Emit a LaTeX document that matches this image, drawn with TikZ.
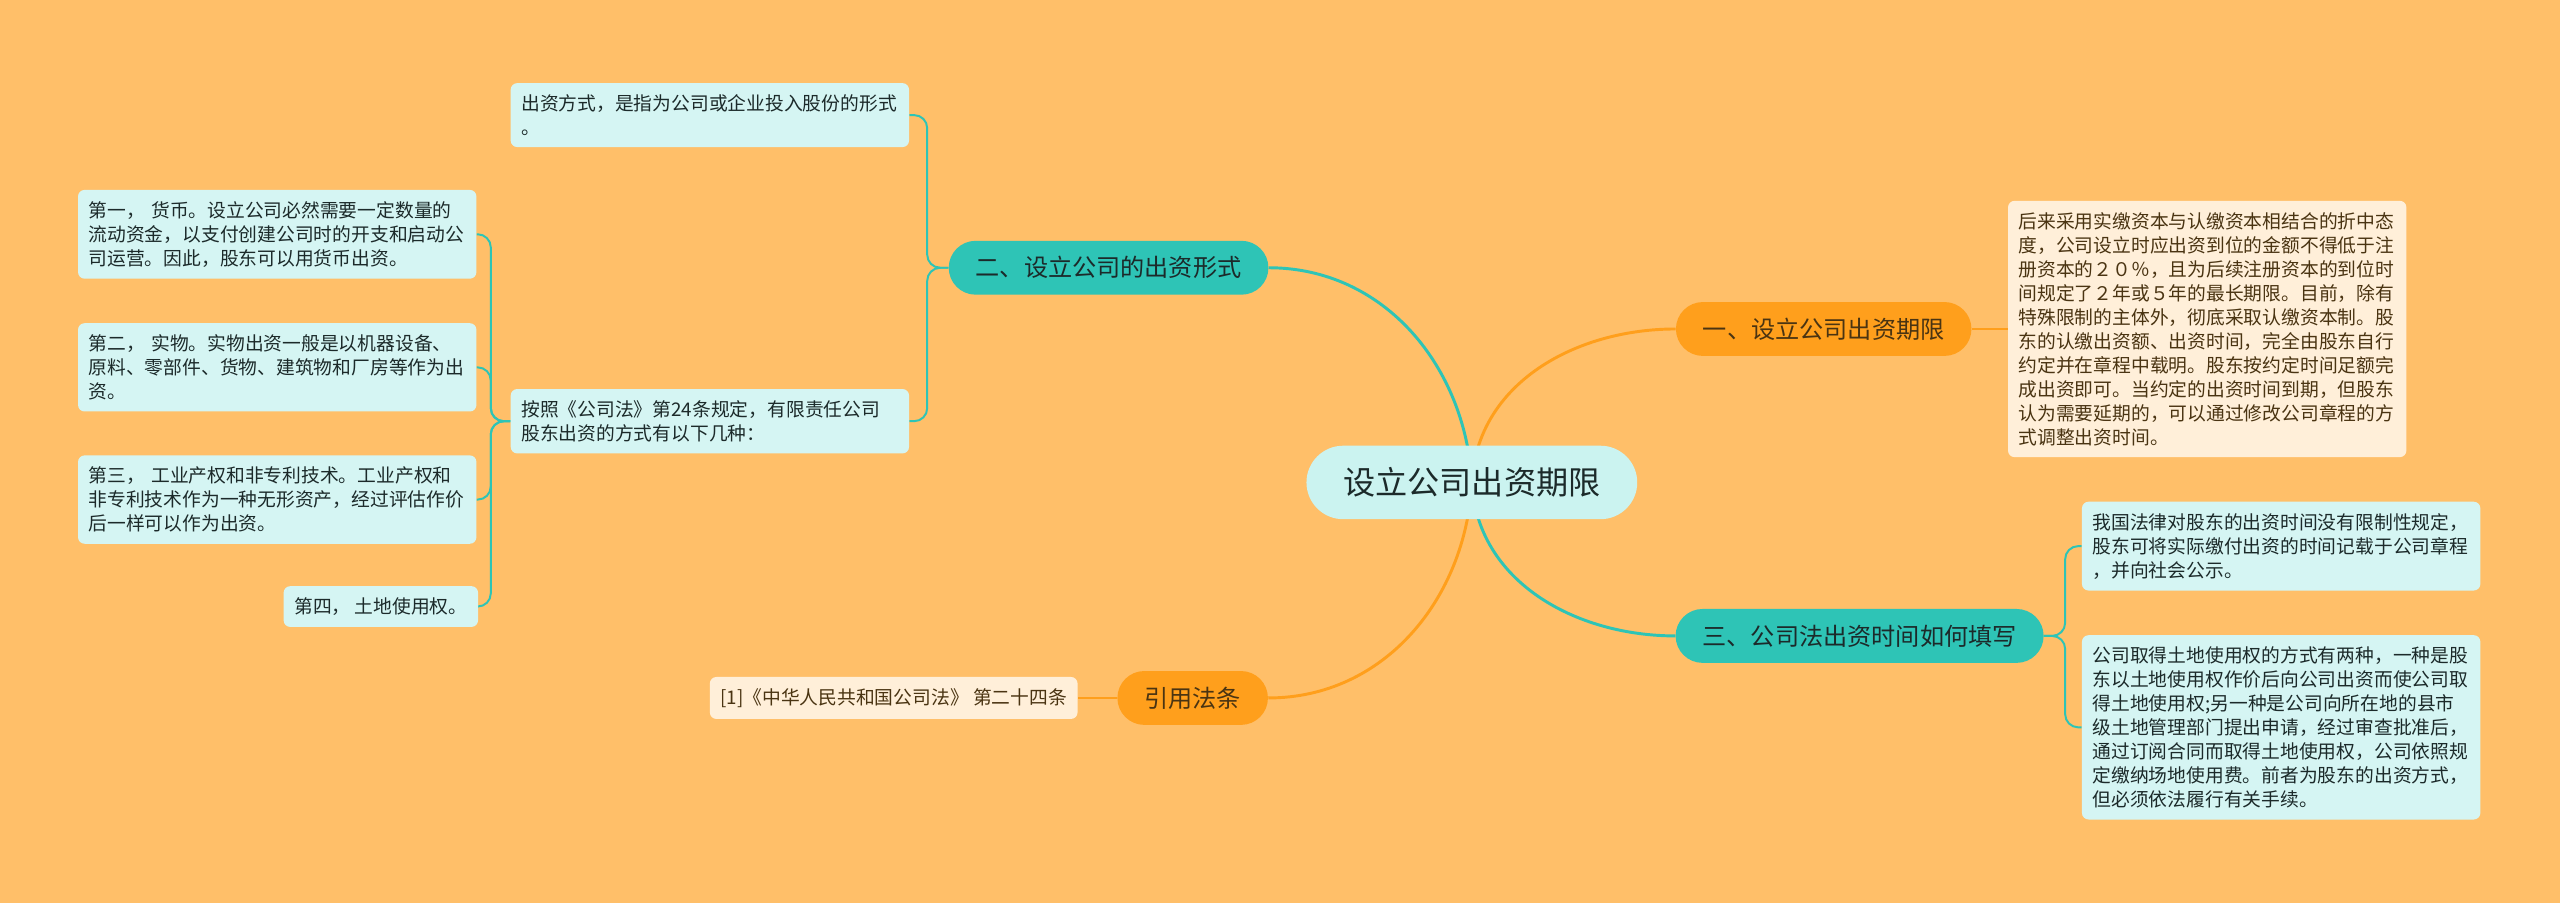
\documentclass[tikz,border=0pt]{standalone}
\usepackage{fontspec}
\setmainfont{Noto Sans CJK SC}
\usetikzlibrary{positioning, backgrounds}
\definecolor{MapBack}{HTML}{FFBF69}
\definecolor{MapOrange}{HTML}{FF9F1C}
\definecolor{MapTeal}{HTML}{2EC4B6}
\definecolor{MapMint}{HTML}{CBF3F0}
\definecolor{MapInk}{HTML}{1C2A2A}
\definecolor{MapBrown}{HTML}{4A3412}

\begin{document}
\begin{tikzpicture}[x=1pt, y=-1pt,
    rootbox/.style={rectangle, fill=MapMint, rounded corners=22.5pt, minimum height=45pt, inner xsep=22.5pt, text=MapInk, font=\fontsize{19.7pt}{24pt}\selectfont},
    topic/.style={rectangle, rounded corners=16.5pt, minimum height=33pt, inner xsep=16.5pt, font=\fontsize{14.8pt}{18pt}\selectfont},
    tealtopic/.style={topic, fill=MapTeal, text=MapInk},
    orangetopic/.style={topic, fill=MapOrange, text=MapBrown},
    leaf/.style={rectangle, rounded corners=4pt, inner xsep=6.5pt, inner ysep=7pt, align=left, font=\fontsize{11.5pt}{14.7pt}\selectfont},
    mintleaf/.style={leaf, fill=MapMint!80!white, text=MapInk},
    creamleaf/.style={leaf, fill=MapBack!25!white, text=MapBrown},
    fulltext/.style={text width=231pt},
    branch/.style={line width=1.8pt},
    twig/.style={line width=1.2pt, rounded corners=8pt}]
    \useasboundingbox (0,0) rectangle (1568,553);

    % centre and main topics
    \node[rootbox] (root) at (901.5,295.5) {设立公司出资期限};
    \node[orangetopic] (t1) at (1117,201.5) {一、设立公司出资期限};
    \node[tealtopic] (t2) at (679,164) {二、设立公司的出资形式};
    \node[tealtopic] (t3) at (1139,389.5) {三、公司法出资时间如何填写};
    \node[orangetopic] (t4) at (730.5,427.5) {引用法条};

    % leaves
    \node[creamleaf, fulltext, right=22pt of t1] (o1) {后来采用实缴资本与认缴资本相结合的折中态\\度，公司设立时应出资到位的金额不得低于注\\册资本的２０％，且为后续注册资本的到位时\\间规定了２年或５年的最长期限。目前，除有\\特殊限制的主体外，彻底采取认缴资本制。股\\东的认缴出资额、出资时间，完全由股东自行\\约定并在章程中载明。股东按约定时间足额完\\成出资即可。当约定的出资时间到期，但股东\\认为需要延期的，可以通过修改公司章程的方\\式调整出资时间。};
    \node[mintleaf, fulltext, anchor=east] (a1) at (557,70.5) {出资方式，是指为公司或企业投入股份的形式\\。};
    \node[mintleaf, fulltext, anchor=east] (b1) at (557,258) {按照《公司法》第24条规定，有限责任公司\\股东出资的方式有以下几种：};
    \node[mintleaf, fulltext, anchor=east] (l1) at (292,143.5) {第一， 货币。设立公司必然需要一定数量的\\流动资金，以支付创建公司时的开支和启动公\\司运营。因此，股东可以用货币出资。};
    \node[mintleaf, fulltext, anchor=east] (l2) at (292,225) {第二， 实物。实物出资一般是以机器设备、\\原料、零部件、货物、建筑物和厂房等作为出\\资。};
    \node[mintleaf, fulltext, anchor=east] (l3) at (292,306) {第三， 工业产权和非专利技术。工业产权和\\非专利技术作为一种无形资产，经过评估作价\\后一样可以作为出资。};
    \node[mintleaf, anchor=east] (l4) at (293,371.5) {第四， 土地使用权。};
    \node[mintleaf, fulltext, anchor=west] (r1) at (1275,334.5) {我国法律对股东的出资时间没有限制性规定，\\股东可将实际缴付出资的时间记载于公司章程\\，并向社会公示。};
    \node[mintleaf, fulltext, anchor=west] (r2) at (1275,445.5) {公司取得土地使用权的方式有两种，一种是股\\东以土地使用权作价后向公司出资而使公司取\\得土地使用权;另一种是公司向所在地的县市\\级土地管理部门提出申请，经过审查批准后，\\通过订阅合同而取得土地使用权，公司依照规\\定缴纳场地使用费。前者为股东的出资方式，\\但必须依法履行有关手续。};
    \node[creamleaf, left=24pt of t4] (c1) {[1]《中华人民共和国公司法》 第二十四条};

    \begin{scope}[on background layer]
        \fill[MapBack] (0,0) rectangle (1568,553);
        % main branches
        \draw[branch, MapTeal] (root.center) to[out=93, in=0] (t2.east);
        \draw[branch, MapOrange] (root.center) to[out=87, in=180] (t1.west);
        \draw[branch, MapTeal] (root.center) to[out=-87, in=180] (t3.west);
        \draw[branch, MapOrange] (root.center) to[out=-93, in=0] (t4.east);
        % twigs
        \draw[twig, MapTeal] (t2.west) -- ++(-13,0) |- (a1.east);
        \draw[twig, MapTeal] (t2.west) -- ++(-13,0) |- (b1.east);
        \draw[twig, MapTeal] (b1.west) -- ++(-12,0) |- (l1.east);
        \draw[twig, MapTeal] (b1.west) -- ++(-12,0) |- (l2.east);
        \draw[twig, MapTeal] (b1.west) -- ++(-12,0) |- (l3.east);
        \draw[twig, MapTeal] (b1.west) -- ++(-12,0) |- (l4.east);
        \draw[twig, MapTeal] (t3.east) -- ++(13,0) |- (r1.west);
        \draw[twig, MapTeal] (t3.east) -- ++(13,0) |- (r2.west);
        \draw[twig, MapOrange] (t1) -- (o1);
        \draw[twig, MapOrange] (t4) -- (c1);
    \end{scope}
\end{tikzpicture}
\end{document}
